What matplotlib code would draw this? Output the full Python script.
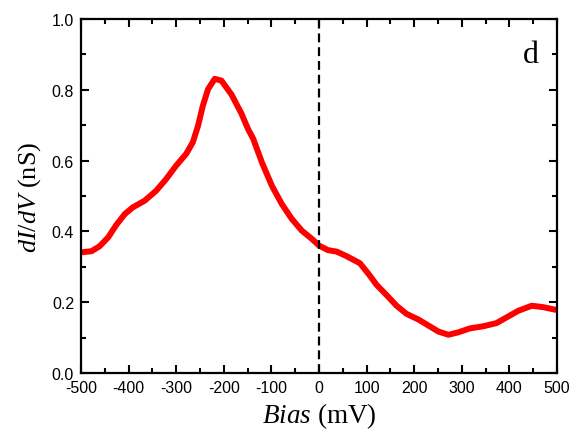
import matplotlib
matplotlib.use("Agg")
import matplotlib.pyplot as plt
from matplotlib.ticker import MultipleLocator, FormatStrFormatter

plt.rcParams["axes.unicode_minus"] = False
plt.rcParams["mathtext.fontset"] = "custom"
plt.rcParams["mathtext.rm"] = "Liberation Serif"
plt.rcParams["mathtext.it"] = "Liberation Serif:italic"

# Tunneling spectrum
bias_mv = [-499, -478, -461, -443, -426, -408, -391, -366, -342, -321, -300,
           -279, -265, -254, -244, -233, -219, -205, -184, -163, -149, -138,
           -120, -99, -78, -57, -36, -15, 0, 19, 37, 58, 86, 104, 121, 142,
           163, 184, 209, 230, 251, 272, 293, 317, 345, 373, 394, 419, 447,
           471, 499]
didv_ns = [0.341, 0.344, 0.358, 0.383, 0.418, 0.449, 0.468, 0.487, 0.515,
           0.548, 0.586, 0.619, 0.652, 0.699, 0.755, 0.802, 0.831, 0.826,
           0.787, 0.733, 0.689, 0.661, 0.595, 0.529, 0.477, 0.435, 0.402,
           0.379, 0.360, 0.347, 0.343, 0.330, 0.310, 0.280, 0.249, 0.220,
           0.190, 0.167, 0.151, 0.134, 0.117, 0.108, 0.115, 0.126, 0.132,
           0.141, 0.157, 0.176, 0.190, 0.186, 0.178]

fig = plt.figure(figsize=(5.85, 4.39), dpi=100)
ax = fig.add_axes([81 / 585, 1 - 374 / 439, 476 / 585, 354 / 439])

ax.plot(bias_mv, didv_ns, color="red", linewidth=4.3,
        solid_joinstyle="round", solid_capstyle="butt")
ax.axvline(0, color="black", linewidth=1.6, linestyle=(0, (4, 2.2)))

ax.set_xlim(-500, 500)
ax.set_ylim(0, 1.0)
ax.xaxis.set_major_locator(MultipleLocator(100))
ax.xaxis.set_minor_locator(MultipleLocator(50))
ax.yaxis.set_major_locator(MultipleLocator(0.2))
ax.yaxis.set_minor_locator(MultipleLocator(0.1))
ax.yaxis.set_major_formatter(FormatStrFormatter("%.1f"))

for s in ax.spines.values():
    s.set_linewidth(1.6)
ax.tick_params(which="both", direction="in", top=True, right=True, width=1.5,
               labelsize=11.5, pad=5)
ax.tick_params(which="major", length=6)
ax.tick_params(which="minor", length=3.5)
for lab in ax.get_xticklabels() + ax.get_yticklabels():
    lab.set_family("Liberation Sans")

serif = "Liberation Serif"
ax.set_xlabel(r"$Bias$ (mV)", family=serif, fontsize=19.5, labelpad=4)
ax.set_ylabel(r"$dI/dV$ (nS)", family=serif, fontsize=19, labelpad=6)

ax.text(0.945, 0.9, "d", transform=ax.transAxes, family=serif, fontsize=23,
        ha="center", va="center")

fig.savefig("out.png", dpi=100)
